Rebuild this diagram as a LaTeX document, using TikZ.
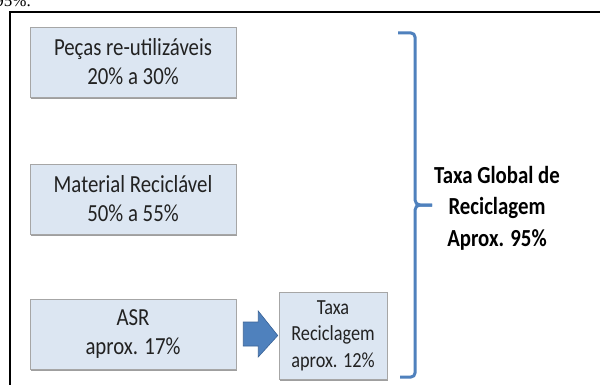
\documentclass[tikz,border=0pt]{standalone}
\usepackage{fontspec}
\setmainfont{Carlito}
\newfontfamily\boxfont[FakeStretch=0.85]{Carlito}
\newfontfamily\timesfont{Liberation Serif}
\usetikzlibrary{shadows,calc}
\definecolor{boxfill}{HTML}{DCE6F2}
\definecolor{boxline}{HTML}{A6A6A6}
\definecolor{bluearrow}{HTML}{4F81BD}
\definecolor{bluedark}{HTML}{3A6397}
\definecolor{txt}{HTML}{222222}
\tikzset{
  pbox/.style={fill=boxfill, draw=boxline, line width=0.5pt, inner sep=0pt,
    align=center, text=txt, font=\boxfont\fontsize{24.5}{29}\selectfont,
    general shadow={fill=gray!75, shadow xshift=1.2pt, shadow yshift=-1.6pt}},
  bracestyle/.style={draw=bluearrow, line width=3pt, line join=round},
  frame/.style={draw=black, line width=1.6pt}
}
\begin{document}
\begin{tikzpicture}[x=1pt,y=-1pt]
\useasboundingbox (0,0) rectangle (600,385);
\fill[white] (0,0) rectangle (600,385);
% fragment of text above
\node[anchor=base east, inner sep=0pt, font=\timesfont\fontsize{17}{20}\selectfont] (prev) at (31,6.5) {95\%.};
% outer frame
\draw[frame] (10,395) -- (10,12) -- (610,12);
% boxes
\node[pbox, minimum width=206pt, minimum height=70pt] (pecas) at (133,62) {Peças re-utilizáveis\\20\% a 30\%};
\node[pbox, minimum width=206pt, minimum height=70pt] (mat) at (133,199) {Material Reciclável\\50\% a 55\%};
\node[pbox, minimum width=206pt, minimum height=70pt] (asr) at (133,334) {ASR\\aprox. 17\%};
\node[pbox, minimum width=108pt, minimum height=87pt, font=\boxfont\fontsize{21.5}{26.5}\selectfont] (taxa) at (333,335.5) {Taxa\\Reciclagem\\aprox. 12\%};
% block arrow from asr to taxa
\coordinate (a0) at ($(asr.east)+(7,0)$);
\coordinate (a1) at ($(taxa.west)+(-1,0)$);
\filldraw[fill=bluearrow, draw=bluedark, line width=0.6pt]
  ($(a0)+(0,-12)$) -- ($(a0)+(15,-12)$) -- ($(a0)+(15,-23)$) -- (a1)
  -- ($(a0)+(15,23)$) -- ($(a0)+(15,12)$) -- ($(a0)+(0,12)$) -- cycle;
% brace
\draw[bracestyle] (398,33) -- (411,33) to[out=0,in=90] (415,37) -- (415,200)
  to[out=-90,in=180] (420,205) -- (432,205);
\draw[bracestyle] (432,205) -- (420,205) to[out=180,in=90] (415,210) -- (415,373)
  to[out=-90,in=0] (411,377) -- (400,377);
\coordinate (tip) at (432,205);
% label
\node[align=center, font=\boxfont\bfseries\fontsize{24.5}{31.5}\selectfont, text=black, inner sep=0pt] (global) at (497,208) {Taxa Global de\\Reciclagem\\Aprox. 95\%};
\end{tikzpicture}
\end{document}
